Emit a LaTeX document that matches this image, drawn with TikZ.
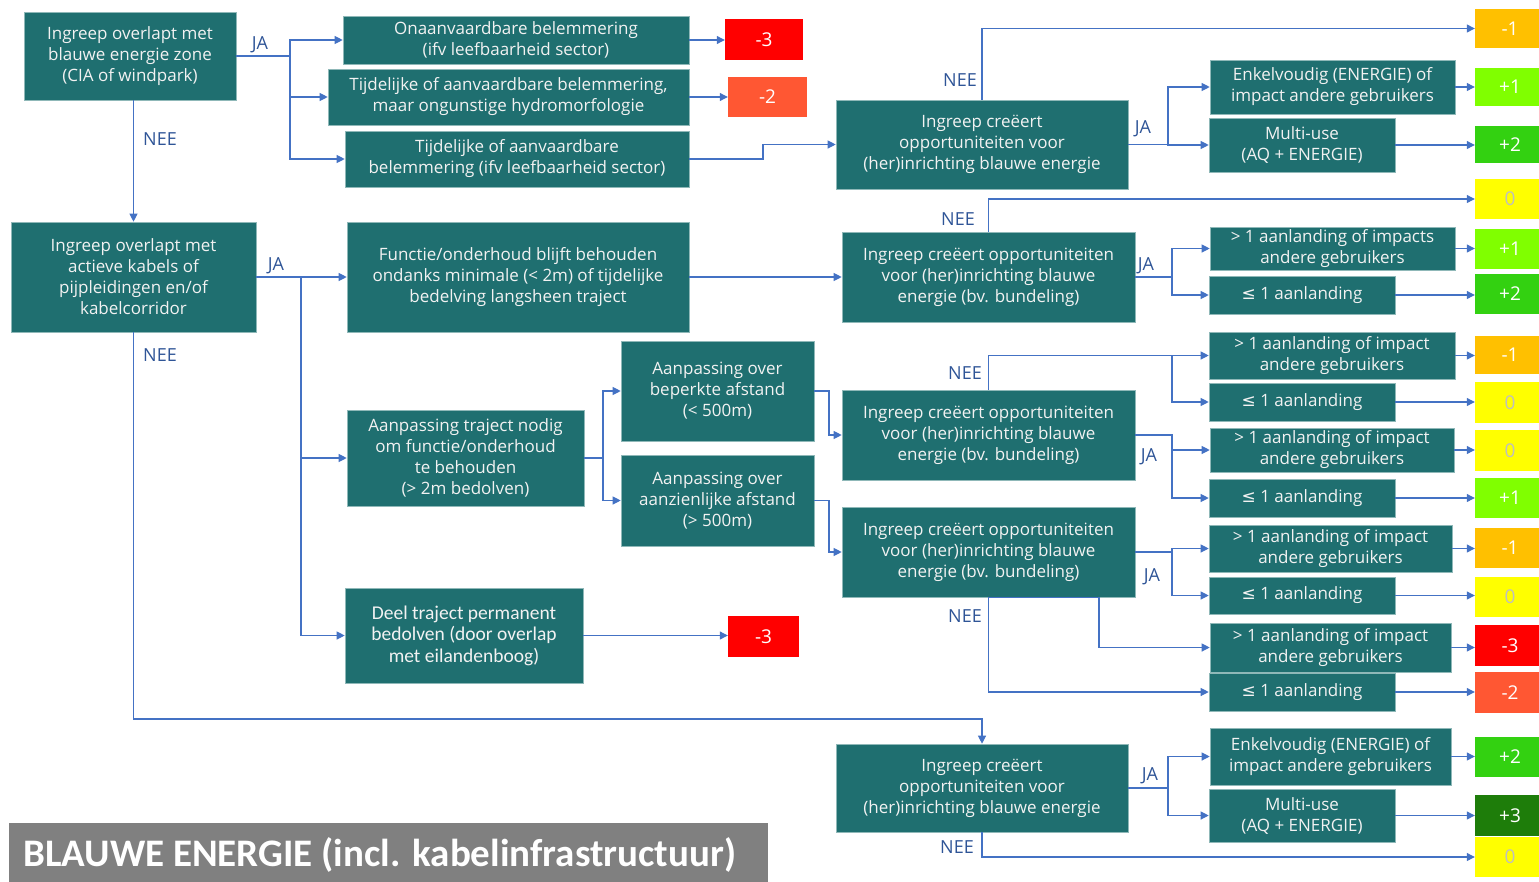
\documentclass[tikz,border=0pt]{standalone}
\usepackage{fontspec}
\setmainfont{Open Sans}
\newfontfamily\calf{Carlito}
\newfontfamily\symf{DejaVu Sans}
\usetikzlibrary{arrows.meta}
\definecolor{boxc}{HTML}{1F6F70}
\definecolor{boxedge}{HTML}{8FB8B8}
\definecolor{conn}{HTML}{4472C4}
\definecolor{labc}{HTML}{2F5597}
\definecolor{sm3}{HTML}{FF0000}
\definecolor{sm2}{HTML}{FF5733}
\definecolor{sm1}{HTML}{FFC000}
\definecolor{szero}{HTML}{FFFF00}
\definecolor{sp1}{HTML}{80FF00}
\definecolor{sp2}{HTML}{33D111}
\definecolor{sp3}{HTML}{1E7D0A}
\definecolor{titlebg}{HTML}{808080}
\definecolor{zerot}{HTML}{BFBFBF}
\newcommand\leqsym{{\symf ≤}}
\newcommand\BX[6]{\node[box,minimum width={(#4-#2)*1pt},minimum height={(#5-#3)*1pt}] (#1) at ({(#2+#4)/2},{(#3+#5)/2}) {#6};}
\newcommand\SC[5]{\node[score,#4,minimum height={(#3-#2)*1pt}] (#1) at (1510,{(#2+#3)/2}) {#5};}
\begin{document}
\begin{tikzpicture}[x=1pt,y=-1pt,
  box/.style={fill=boxc,draw=boxedge,line width=0.6pt,text=white!95!black,align=center,inner sep=0pt,
    font=\fontsize{17}{21}\selectfont},
  condbox/.style={box,font=\calf\fontsize{19.5}{21.5}\selectfont},
  score/.style={minimum width=70pt,inner sep=0pt,text=white,font=\fontsize{19}{19}\selectfont},
  lab/.style={text=labc,inner sep=0pt,font=\fontsize{18}{18}\selectfont},
  arr/.style={draw=conn,line width=1.1pt,-{Triangle[length=8pt,width=8pt]}}]
\useasboundingbox (0,0) rectangle (1539,881);

% title
\node[fill=titlebg,anchor=north west,minimum width=759pt,minimum height=70pt,inner sep=0pt] (tbg) at (9,823) {};
\node[anchor=base west,text=white,inner sep=0pt,font=\calf\bfseries\fontsize{39}{39}\selectfont] (title) at (23,866) {BLAUWE ENERGIE (incl. kabelinfrastructuur)};

% column 1
\BX{A1}{24}{12}{236}{100}{Ingreep overlapt met\\blauwe energie zone\\(CIA of windpark)}
\BX{A2}{11}{222}{256}{332}{Ingreep overlapt met\\actieve kabels of\\pijpleidingen en/of\\kabelcorridor}

% column 2
\BX{B1}{343}{16}{689}{64}{Onaanvaardbare belemmering\\(ifv leefbaarheid sector)}
\BX{B2}{328}{69}{689}{125}{Tijdelijke of aanvaardbare belemmering,\\maar ongunstige hydromorfologie}
\BX{B3}{345}{131}{689}{187}{Tijdelijke of aanvaardbare\\belemmering (ifv leefbaarheid sector)}
\BX{C1}{347}{222}{689}{332}{Functie/onderhoud blijft behouden\\ondanks minimale (< 2m) of tijdelijke\\bedelving langsheen traject}
\BX{C2}{347}{410}{584}{506}{Aanpassing traject nodig\\om functie/onderhoud\\te behouden\\(> 2m bedolven)}
\node[condbox,minimum width=238pt,minimum height=95pt] (C3) at (464,635.5) {Deel traject permanent\\bedolven (door overlap\\met eilandenboog)};

% column 3
\BX{D1}{621}{341}{814}{441}{Aanpassing over\\beperkte afstand\\(< 500m)}
\BX{D2}{621}{455}{814}{546}{Aanpassing over\\aanzienlijke afstand\\(> 500m)}

% middle scores
\node[score,fill=sm3,minimum width=78pt,minimum height=41pt] (S1) at (764,39.5) {-3};
\node[score,fill=sm2,minimum width=79pt,minimum height=40pt] (S2) at (767.5,97) {-2};
\node[score,fill=sm3,minimum width=71pt,minimum height=41pt] (S3) at (763.5,636.5) {-3};

% column 4
\BX{E1}{836}{100}{1128}{189}{Ingreep creëert\\opportuniteiten voor\\(her)inrichting blauwe energie}
\BX{E2}{842}{232}{1135}{322}{Ingreep creëert opportuniteiten\\voor (her)inrichting blauwe\\energie (bv. bundeling)}
\BX{E3}{842}{390}{1135}{480}{Ingreep creëert opportuniteiten\\voor (her)inrichting blauwe\\energie (bv. bundeling)}
\BX{E4}{842}{507}{1135}{597}{Ingreep creëert opportuniteiten\\voor (her)inrichting blauwe\\energie (bv. bundeling)}
\BX{E5}{836}{744}{1128}{832}{Ingreep creëert\\opportuniteiten voor\\(her)inrichting blauwe energie}

% column 5
\BX{F1}{1210}{60}{1455}{114}{Enkelvoudig (ENERGIE) of\\impact andere gebruikers}
\BX{F2}{1209}{118}{1395}{172}{Multi-use\\(AQ + ENERGIE)}
\BX{F3}{1210}{227}{1455}{270}{> 1 aanlanding of impacts\\andere gebruikers}
\BX{F4}{1209}{276}{1395}{314}{\leqsym{} 1 aanlanding}
\BX{F5}{1209}{332}{1455}{379}{> 1 aanlanding of impact\\andere gebruikers}
\BX{F6}{1209}{383}{1395}{421}{\leqsym{} 1 aanlanding}
\BX{F7}{1210}{428}{1454}{472}{> 1 aanlanding of impact\\andere gebruikers}
\BX{F8}{1209}{479}{1395}{517}{\leqsym{} 1 aanlanding}
\BX{F9}{1209}{525}{1452}{572}{> 1 aanlanding of impact\\andere gebruikers}
\BX{F10}{1209}{577}{1395}{614}{\leqsym{} 1 aanlanding}
\BX{F11}{1210}{623}{1451}{672}{> 1 aanlanding of impact\\andere gebruikers}
\BX{F12}{1209}{673}{1395}{711}{\leqsym{} 1 aanlanding}
\BX{F13}{1210}{728}{1451}{785}{Enkelvoudig (ENERGIE) of\\impact andere gebruikers}
\BX{F14}{1209}{789}{1395}{842}{Multi-use\\(AQ + ENERGIE)}

% score column
\SC{R1}{9}{48}{fill=sm1}{-1}
\SC{R2}{68}{106}{fill=sp1}{+1}
\SC{R3}{126}{163}{fill=sp2}{+2}
\SC{R4}{179}{219}{fill=szero,text=zerot}{0}
\SC{R5}{229}{269}{fill=sp1}{+1}
\SC{R6}{274}{314}{fill=sp2}{+2}
\SC{R7}{336}{374}{fill=sm1}{-1}
\SC{R8}{382}{423}{fill=szero,text=zerot}{0}
\SC{R9}{430}{471}{fill=szero,text=zerot}{0}
\SC{R10}{478}{518}{fill=sp1}{+1}
\SC{R11}{528}{568}{fill=sm1}{-1}
\SC{R12}{577}{617}{fill=szero,text=zerot}{0}
\SC{R13}{625}{666}{fill=sm3}{-3}
\SC{R14}{672}{713}{fill=sm2}{-2}
\SC{R15}{737}{777}{fill=sp2}{+2}
\SC{R16}{795}{836}{fill=sp3}{+3}
\SC{R17}{837}{877}{fill=szero,text=zerot}{0}

% junction coordinates
\coordinate (jA) at (290,0);
\coordinate (jA2) at (301,0);
\coordinate (jB) at (763,0);
\coordinate (jC2) at (603,0);
\coordinate (jD) at (829,0);
\coordinate (jE1) at (1168,0);
\coordinate (jE) at (1172,0);
\coordinate (jE4) at (1099,0);
\coordinate (jBot) at (0,719);

% connectors
\draw[arr] (A1.east) -- (A1.east -| jA) |- (B1.west);
\draw[arr] (A1.east -| jA) |- (B2.west);
\draw[arr] (A1.east -| jA) |- (B3.west);
\draw[arr] (A2.north |- A1.south) -- (A2.north);
\draw[arr] (B1.east) -- (B1.east -| S1.west);
\draw[arr] (B2.east) -- (B2.east -| S2.west);
\draw[arr] (B3.east) -- (B3.east -| jB) |- (E1.west);
\draw[arr] (E1.north) |- (R1.west);
\draw[arr] (E1.east) -- (E1.east -| jE1) |- (F1.west);
\draw[arr] (E1.east -| jE1) |- (F2.west);

\draw[arr] (A2.east) -- (C1.west);
\draw[arr] (A2.east -| jA2) |- (C2.west);
\draw[arr] (A2.east -| jA2) |- (C3.west);
\draw[arr] (A2.south) -- (A2.south |- jBot) -| (E5.north);
\draw[arr] (C1.east) -- (E2.west);
\draw[arr] (C2.east) -- (C2.east -| jC2) |- (D1.west);
\draw[arr] (C2.east -| jC2) |- (D2.west);
\draw[arr] (D1.east) -- (D1.east -| jD) |- (E3.west);
\draw[arr] (D2.east) -- (D2.east -| jD) |- (E4.west);
\draw[arr] (C3.east) -- (C3.east -| S3.west);

\draw[arr] (E2.north) |- (R4.west);
\draw[arr] (E2.east) -- (E2.east -| jE) |- (F3.west);
\draw[arr] (E2.east -| jE) |- (F4.west);
\draw[arr] (E3.north) |- (F5.west);
\draw[arr] (jE |- F5.west) |- (F6.west);
\draw[arr] (E3.east) -- (E3.east -| jE) |- (F7.west);
\draw[arr] (E3.east -| jE) |- (F8.west);
\draw[arr] (E4.east) -- (E4.east -| jE) |- (F9.west);
\draw[arr] (E4.east -| jE) |- (F10.west);
\draw[arr] (E4.south) -- (E4.south -| jE4) |- (F11.west);
\draw[arr] (E4.south) |- (F12.west);
\draw[arr] (E5.east) -- (E5.east -| jE1) |- (F13.west);
\draw[arr] (E5.east -| jE1) |- (F14.west);
\draw[arr] (E5.south) |- (R17.west);

\foreach \f/\r in {F1/R2,F2/R3,F3/R5,F4/R6,F5/R7,F6/R8,F7/R9,F8/R10,F9/R11,F10/R12,F11/R13,F12/R14,F13/R15,F14/R16}
  \draw[arr] (\f.east) -- (\f.east -| \r.west);

% labels
\node[lab] (lJA1) at (260,45) {JA};
\node[lab] (lNEE1) at (160,139) {NEE};
\node[lab] (lJA2) at (276,266) {JA};
\node[lab] (lNEE2) at (160,355) {NEE};
\node[lab] (lNEE3) at (960,80) {NEE};
\node[lab] (lJA3) at (1143,129) {JA};
\node[lab] (lNEE4) at (958,219) {NEE};
\node[lab] (lJA4) at (1146,266) {JA};
\node[lab] (lNEE5) at (965,373) {NEE};
\node[lab] (lJA5) at (1149,457) {JA};
\node[lab] (lJA6) at (1152,577) {JA};
\node[lab] (lNEE6) at (965,616) {NEE};
\node[lab] (lJA7) at (1150,776) {JA};
\node[lab] (lNEE7) at (957,847) {NEE};
\end{tikzpicture}
\end{document}
